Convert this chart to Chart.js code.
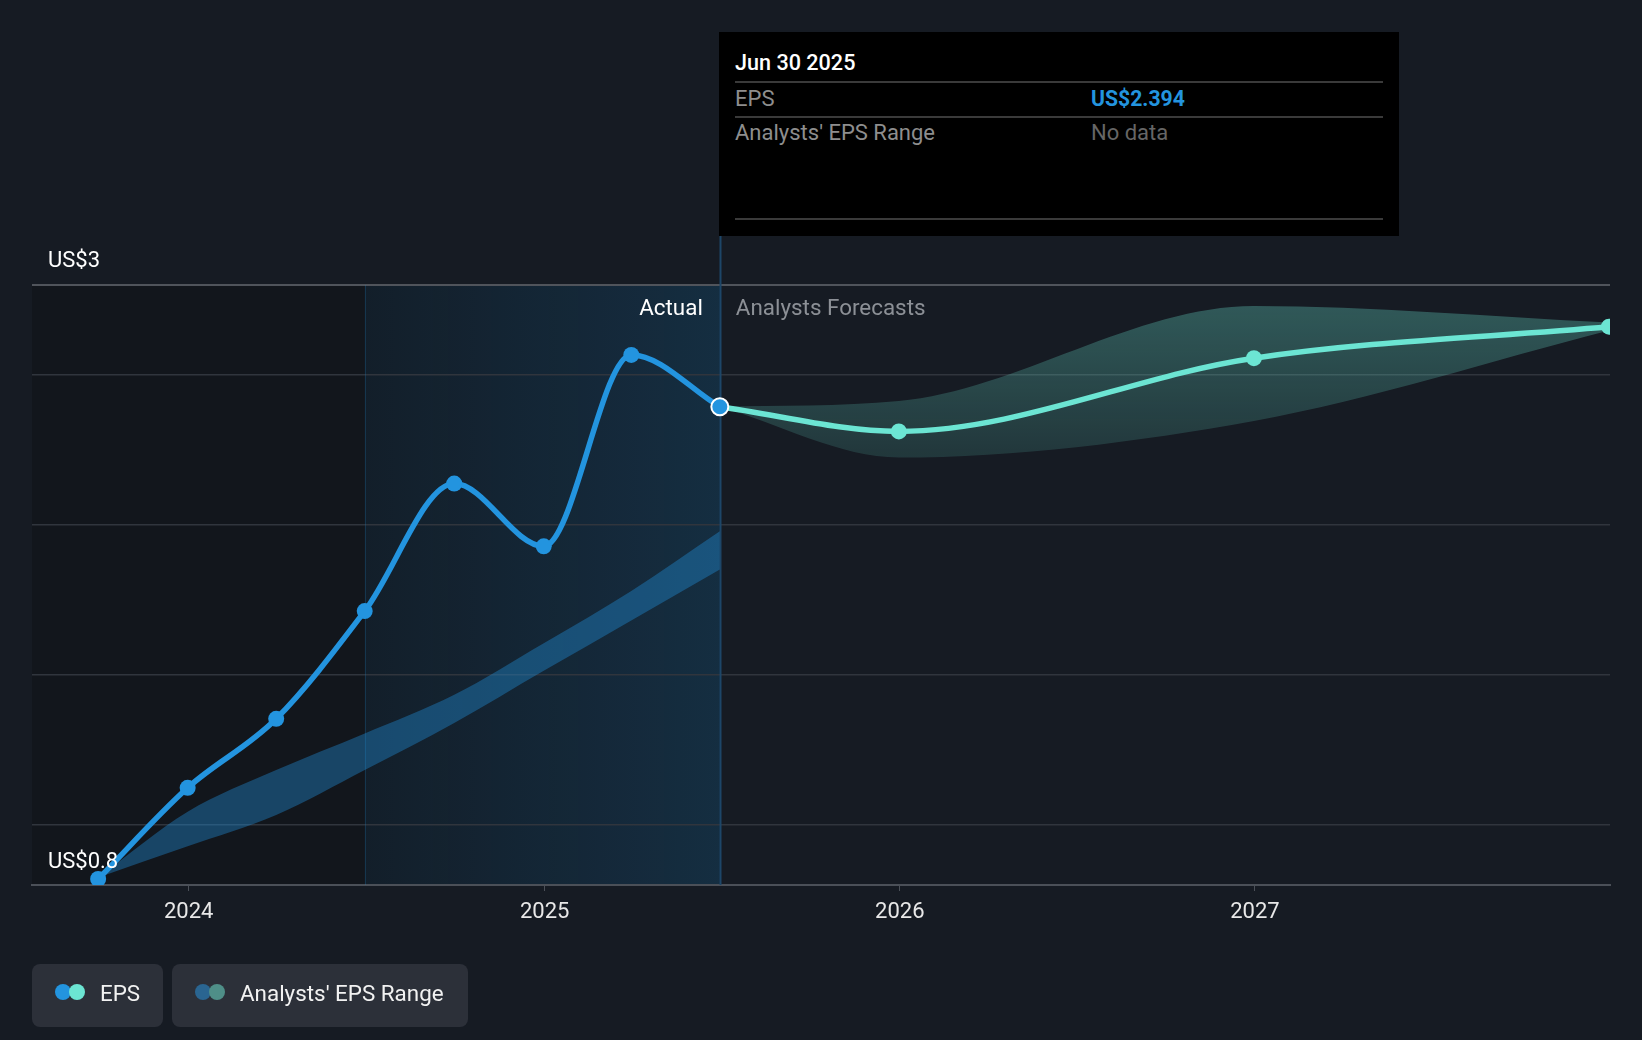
<!DOCTYPE html>
<html>
<head>
<meta charset="utf-8">
<script src="https://cdn.jsdelivr.net/npm/chart.js@4.4.1/dist/chart.umd.min.js"></script>
<style>
  html, body { margin: 0; padding: 0; background: #161b23; }
  body { width: 1642px; height: 1040px; position: relative; overflow: hidden; font-family: Roboto, sans-serif; }
  #myChart { position: absolute; left: 0; top: 0; }
  .tip { position: absolute; left: 719px; top: 32px; width: 680px; height: 204px; background: #000; }
  .tip div { position: absolute; white-space: nowrap; font-size: 22px; line-height: 26px; }
  .tip .rule { height: 2px; left: 16px; width: 648px; background: #3a3a3a; }
  .legend { position: absolute; top: 964px; height: 63px; background: #2c3039; border-radius: 8px; }
  .legend span.txt { position: absolute; top: 15px; font-size: 22.4px; line-height: 28px; color: #f2f2f2; }
  .dot { position: absolute; top: 984px; width: 16px; height: 16px; border-radius: 50%; }
</style>
</head>
<body>
<canvas id="myChart" width="1642" height="1040"></canvas>

<div class="tip">
  <div style="left:16px;top:18px;color:#fff;font-weight:500;font-size:21.6px">Jun 30 2025</div>
  <div class="rule" style="top:49px"></div>
  <div style="left:16px;top:54px;color:#8e8e8e">EPS</div>
  <div style="left:372px;top:54px;color:#2394df;font-weight:700;font-size:21.2px">US$2.394</div>
  <div class="rule" style="top:84px"></div>
  <div style="left:16px;top:88px;color:#8e8e8e">Analysts' EPS Range</div>
  <div style="left:372px;top:88px;color:#666">No data</div>
  <div class="rule" style="top:186px"></div>
</div>

<div class="legend" style="left:32px;width:131px"><span class="txt" style="left:68px">EPS</span></div>
<div class="legend" style="left:172px;width:296px"><span class="txt" style="left:68px">Analysts' EPS Range</span></div>
<span class="dot" style="left:55px;background:#2394df"></span>
<span class="dot" style="left:69px;background:#6ce5d3"></span>
<span class="dot" style="left:195px;background:#2a6591"></span>
<span class="dot" style="left:209px;background:#4f8f88"></span>

<script>
// Datos reales (trimestres)
const actualDates = ['2023-09-30', '2023-12-31', '2024-03-31', '2024-06-30', '2024-09-30', '2024-12-31', '2025-03-31', '2025-06-30'];
const epsActual = [0.82, 1.124, 1.354, 1.713, 2.138, 1.929, 2.567, 2.394];
const pastRangeHigh = [0.825, 1.044, 1.183, 1.305, 1.434, 1.606, 1.78, 1.979];
const pastRangeLow = [0.825, 0.929, 1.033, 1.183, 1.34, 1.514, 1.682, 1.852];

// Previsiones de analistas
const forecastDates = ['2025-06-30', '2025-12-31', '2026-12-31', '2027-12-31'];
const epsForecast = [2.394, 2.312, 2.556, 2.661];
const forecastHigh = [2.394, 2.413, 2.730, 2.675];
const forecastLow = [2.394, 2.225, 2.347, 2.648];

// Ejes
const xTickYears = [2024, 2025, 2026, 2027];
const xTickLabels = ['2024', '2025', '2026', '2027'];
const yGridValues = [0.8, 1.0, 1.5, 2.0, 2.5, 2.8];
const yLabels = ['US$0.8', 'US$3'];
const xStart = '2023-07-24';
const xEnd = '2028-01-01';
const pastShadeStart = '2024-06-30';
const todayDate = '2025-06-30';

const toX = s => Date.parse(s);
const pts = (dates, vals) => dates.map((d, i) => ({ x: toX(d), y: vals[i] }));

const BLUE = '#2394df';
const TEAL = '#6ce5d3';

const overlay = {
    id: 'overlay',
    beforeDraw(chart) {
        const { ctx, chartArea: a, scales: { x } } = chart;
        const x1 = x.getPixelForValue(toX(pastShadeStart));
        const x2 = x.getPixelForValue(toX(todayDate));
        ctx.save();
        // zona pasada un poco mas oscura
        ctx.fillStyle = 'rgba(0,0,0,0.18)';
        ctx.fillRect(a.left, a.top, x2 - a.left, a.bottom - a.top);
        // ultimo año resaltado en azul
        const g = ctx.createLinearGradient(x1, 0, x2, 0);
        g.addColorStop(0, 'rgba(35,148,223,0.07)');
        g.addColorStop(1, 'rgba(35,148,223,0.19)');
        ctx.fillStyle = g;
        ctx.fillRect(x1, a.top, x2 - x1, a.bottom - a.top);
        ctx.restore();
    },
    beforeDatasetsDraw(chart) {
        const { ctx, chartArea: a, scales: { x } } = chart;
        const x1 = Math.round(x.getPixelForValue(toX(pastShadeStart))) + 0.5;
        const x2 = Math.round(x.getPixelForValue(toX(todayDate))) + 0.5;
        ctx.save();
        ctx.lineWidth = 1;
        ctx.strokeStyle = 'rgba(35,148,223,0.2)';
        ctx.beginPath(); ctx.moveTo(x1, a.top); ctx.lineTo(x1, a.bottom); ctx.stroke();
        ctx.lineWidth = 2;
        ctx.strokeStyle = '#1d4668';
        ctx.beginPath(); ctx.moveTo(x2, 236); ctx.lineTo(x2, a.bottom); ctx.stroke();
        ctx.restore();
    },
    afterDatasetsDraw(chart) {
        const { ctx, chartArea: a, scales: { x, y } } = chart;
        const x2 = x.getPixelForValue(toX(todayDate));
        ctx.save();
        ctx.font = '22.4px Roboto';
        ctx.textBaseline = 'middle';
        ctx.fillStyle = '#ffffff';
        ctx.textAlign = 'right';
        ctx.fillText('Actual', x2 - 17, a.top + 24);
        ctx.textAlign = 'left';
        ctx.fillStyle = '#8c9096';
        ctx.fillText('Analysts Forecasts', x2 + 16, a.top + 24);
        ctx.font = '22px Roboto';
        ctx.fillStyle = '#ffffff';
        ctx.fillText(yLabels[1], 48, y.getPixelForValue(yGridValues[yGridValues.length - 1]) - 24);
        ctx.fillText(yLabels[0], 48, y.getPixelForValue(yGridValues[0]) - 23);
        ctx.restore();
    }
};

function forecastFill(context) {
    const { ctx, chartArea } = context.chart;
    if (!chartArea) return 'rgba(108,229,210,0.25)';
    const g = ctx.createLinearGradient(0, chartArea.top, 0, chartArea.top + 190);
    g.addColorStop(0, 'rgba(108,229,210,0.33)');
    g.addColorStop(1, 'rgba(108,229,210,0.12)');
    return g;
}

const lastIdx = epsActual.length - 1;

new Chart(document.getElementById('myChart'), {
    type: 'line',
    data: {
        datasets: [
            {
                label: 'pastHigh', data: pts(actualDates, pastRangeHigh), fill: '+1',
                backgroundColor: 'rgba(35,148,223,0.38)', borderWidth: 0, pointRadius: 0,
                cubicInterpolationMode: 'monotone', order: 5
            },
            {
                label: 'pastLow', data: pts(actualDates, pastRangeLow), fill: false,
                borderWidth: 0, pointRadius: 0, cubicInterpolationMode: 'monotone', order: 5
            },
            {
                label: 'fcHigh', data: pts(forecastDates, forecastHigh), fill: '+1',
                backgroundColor: forecastFill, borderWidth: 0, pointRadius: 0,
                cubicInterpolationMode: 'monotone', order: 5, clip: 0
            },
            {
                label: 'fcLow', data: pts(forecastDates, forecastLow), fill: false,
                borderWidth: 0, pointRadius: 0, cubicInterpolationMode: 'monotone', order: 5, clip: 0
            },
            {
                label: 'EPS forecast', data: pts(forecastDates, epsForecast),
                borderColor: TEAL, backgroundColor: TEAL, borderWidth: 5.5,
                pointRadius: epsForecast.map((v, i) => i === 0 ? 0 : 8), pointBorderWidth: 0,
                cubicInterpolationMode: 'monotone', order: 2, clip: 0
            },
            {
                label: 'EPS', data: pts(actualDates, epsActual),
                borderColor: BLUE, backgroundColor: BLUE, borderWidth: 5.5,
                pointRadius: epsActual.map((v, i) => i === lastIdx ? 8.5 : 8),
                pointBorderColor: epsActual.map((v, i) => i === lastIdx ? '#ffffff' : BLUE),
                pointBorderWidth: epsActual.map((v, i) => i === lastIdx ? 2 : 0),
                cubicInterpolationMode: 'monotone', order: 1
            }
        ]
    },
    options: {
        responsive: false,
        animation: false,
        devicePixelRatio: 1,
        layout: { padding: { left: 32, right: 32, top: 285, bottom: 115 } },
        plugins: { legend: { display: false }, tooltip: { enabled: false } },
        scales: {
            x: {
                type: 'linear',
                min: toX(xStart), max: toX(xEnd),
                afterBuildTicks: s => { s.ticks = xTickYears.map(yr => ({ value: Date.UTC(yr, 0, 1) })); },
                afterFit: s => { s.height = 40; },
                ticks: {
                    callback: (v, i) => xTickLabels[i],
                    color: '#e8e8e8', font: { family: 'Roboto', size: 22 }, padding: 8, maxRotation: 0
                },
                grid: { drawOnChartArea: false, drawTicks: true, tickLength: 6, color: '#4b5058' },
                border: { display: true, color: '#4b5058', width: 2 }
            },
            y: {
                type: 'linear',
                min: yGridValues[0], max: yGridValues[yGridValues.length - 1],
                afterBuildTicks: s => { s.ticks = yGridValues.map(v => ({ value: v })); },
                afterFit: s => { s.width = 0; },
                ticks: { display: false },
                grid: {
                    drawTicks: false,
                    color: c => c.index === yGridValues.length - 1 ? '#50545b' : '#30353d',
                    lineWidth: c => c.index === yGridValues.length - 1 ? 2 : 1.5
                },
                border: { display: false }
            }
        }
    },
    plugins: [overlay]
});
</script>
</body>
</html>
